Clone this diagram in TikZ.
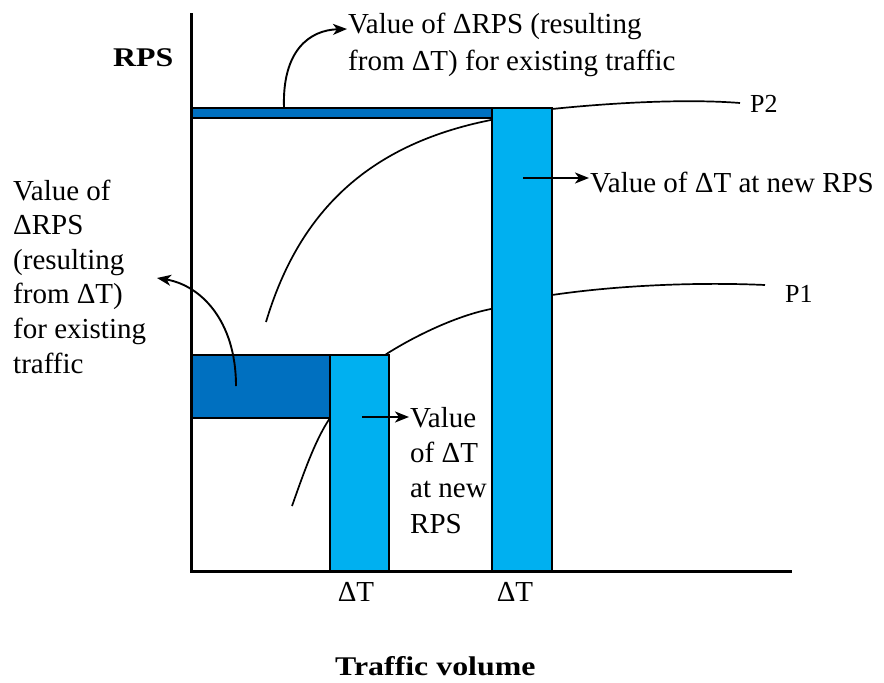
\documentclass[tikz,border=0pt]{standalone}
\usepackage{fontspec}
\setmainfont{Liberation Serif}
\newfontfamily\bstretch[FakeStretch=1.18]{Liberation Serif}
\usetikzlibrary{arrows.meta}
\definecolor{darkbar}{HTML}{0070C0}
\definecolor{lightbar}{HTML}{00B0F0}
\begin{document}
\begin{tikzpicture}[x=1pt,y=-1pt,
  txt/.style={font=\fontsize{29}{35}\selectfont, inner sep=0pt, anchor=base west},
  ptxt/.style={font=\fontsize{26}{30}\selectfont, inner sep=0pt, anchor=base west},
  btxt/.style={font=\fontsize{27}{32}\selectfont\bstretch\bfseries, inner sep=0pt, anchor=base west},
  bar/.style={draw=black, line width=1.5pt},
  curve/.style={line width=1.7pt},
  callout/.style={line width=1.9pt, -{Stealth[length=14pt,width=11pt,inset=4pt]}},
  axis/.style={line width=3pt}]
\useasboundingbox (0,0) rectangle (884,683);

% demand curves
\coordinate (p2s) at (266,322);
\coordinate (p2a) at (491,120);
\coordinate (p2b) at (552,109);
\coordinate (p2e) at (740,103);
\draw[curve] (p2s) .. controls (298,215) and (365,145) .. (p2a) -- (p2b) .. controls (620,102) and (690,99) .. (p2e);

\coordinate (p1s) at (292,506);
\coordinate (p1a) at (330,418);
\coordinate (p1b) at (388,353);
\coordinate (p1c) at (491,309);
\coordinate (p1d) at (552,295);
\coordinate (p1e) at (765,285);
\draw[curve] (p1s) .. controls (303,475) and (315,440) .. (p1a) .. controls (350,385) and (370,365) .. (p1b) .. controls (420,333) and (460,315) .. (p1c) -- (p1d) .. controls (620,285) and (700,282) .. (p1e);

% bars
\draw[bar, fill=darkbar] (192,108) rectangle (492,118);
\draw[bar, fill=lightbar] (492,108) rectangle (552,571);
\draw[bar, fill=darkbar] (191,355) rectangle (330,418);
\draw[bar, fill=lightbar] (330,355) rectangle (389,571);

% axes
\draw[axis] (191,13) -- (191,571) -- (792,571);

% labels
\node[btxt] (rps) at (113,66) {RPS};
\node[btxt] (tv) at (335,675) {Traffic volume};
\node[txt, anchor=base] (dt1) at (356,601) {ΔT};
\node[txt, anchor=base] (dt2) at (515,601) {ΔT};
\node[ptxt] (p2) at (750,112) {P2};
\node[ptxt] (p1) at (785,302) {P1};

\node[txt] (top1) at (348,33) {Value of ΔRPS (resulting};
\node[txt] (top2) at (348,70) {from ΔT) for existing traffic};

\node[txt] (l1) at (13,200) {Value of};
\node[txt] (l2) at (13,234.6) {ΔRPS};
\node[txt] (l3) at (13,269.2) {(resulting};
\node[txt] (l4) at (13,303.8) {from ΔT)};
\node[txt] (l5) at (13,338.4) {for existing};
\node[txt] (l6) at (13,373) {traffic};

\node[txt] (m1) at (410,427) {Value};
\node[txt] (m2) at (410,462.3) {of ΔT};
\node[txt] (m3) at (410,497.6) {at new};
\node[txt] (m4) at (410,533) {RPS};

\node[txt] (r1) at (590,192) {Value of ΔT at new RPS};

% callout arrows
\coordinate (a1s) at (284,108);
\coordinate (a1e) at (347,29);
\draw[callout] (a1s) .. controls (282,50) and (310,30) .. (a1e);

\coordinate (a2s) at (236,386);
\coordinate (a2e) at (157,278);
\draw[callout] (a2s) .. controls (236,320) and (200,285) .. (a2e);

\coordinate (a3s) at (362,417);
\coordinate (a3e) at (409,417);
\draw[callout] (a3s) -- (a3e);

\coordinate (a4s) at (523,178);
\coordinate (a4e) at (589,178);
\draw[callout] (a4s) -- (a4e);
\end{tikzpicture}
\end{document}
